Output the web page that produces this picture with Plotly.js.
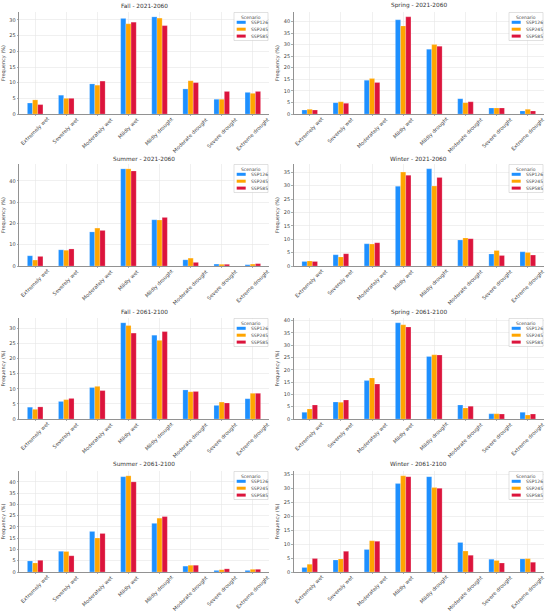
<!DOCTYPE html>
<html>
<head>
<meta charset="utf-8">
<script src="https://cdn.plot.ly/plotly-3.0.1.min.js"></script>
<style>html,body{margin:0;padding:0;background:#fff;}#chart{width:550px;height:612px;}</style>
</head>
<body>
<div id="chart"></div>
<script>
const categories = ['Extremely wet','Severely wet','Moderately wet','Mildly wet','Mildly drought','Moderate drought','Severe drought','Extreme drought'];
const scenarios = ['SSP126','SSP245','SSP585'];
const panelTitles = ['Fall - 2021-2060','Spring - 2021-2060','Summer - 2021-2060','Winter - 2021-2060','Fall - 2061-2100','Spring - 2061-2100','Summer - 2061-2100','Winter - 2061-2100'];
const yTickStep = [5,5,10,5,5,5,5,5];

// Fall 2021-2060
const fallA_126 = [3.5,6.0,9.6,30.5,31.0,8.0,4.7,6.9];
const fallA_245 = [4.5,5.0,9.2,28.8,30.6,10.6,4.7,6.6];
const fallA_585 = [3.0,5.0,10.5,29.3,28.2,10.0,7.2,7.2];
// Spring 2021-2060
const springA_126 = [1.7,4.9,14.6,40.7,28.0,6.6,2.6,1.3];
const springA_245 = [2.0,5.3,15.3,38.1,30.0,4.9,2.6,2.0];
const springA_585 = [1.7,4.6,13.6,42.0,29.3,5.3,2.6,1.3];
// Summer 2021-2060
const summerA_126 = [4.8,7.6,16.0,45.6,21.7,2.9,0.9,0.6];
const summerA_245 = [2.8,7.4,17.8,45.6,21.6,3.7,0.8,0.9];
const summerA_585 = [4.5,8.0,16.7,44.6,22.8,1.7,0.8,1.1];
// Winter 2021-2060
const winterA_126 = [1.7,4.2,8.3,29.8,36.3,9.7,4.5,5.3];
const winterA_245 = [1.9,3.4,8.2,35.1,29.9,10.5,5.8,5.0];
const winterA_585 = [1.7,4.6,8.7,33.9,33.1,10.2,3.9,4.1];
// Fall 2061-2100
const fallB_126 = [3.9,5.8,10.4,31.8,27.7,9.6,4.5,6.7];
const fallB_245 = [3.2,6.4,10.8,30.9,26.0,9.0,5.6,8.5];
const fallB_585 = [4.0,6.8,9.4,28.4,28.9,9.1,5.3,8.5];
// Spring 2061-2100
const springB_126 = [2.7,6.9,15.6,39.1,25.4,5.7,2.1,2.7];
const springB_245 = [4.1,6.8,16.7,38.3,26.1,4.5,2.1,1.6];
const springB_585 = [5.7,7.7,14.2,37.4,26.0,5.2,2.0,2.0];
// Summer 2061-2100
const summerB_126 = [4.9,9.2,18.0,42.3,21.6,2.6,0.7,0.7];
const summerB_245 = [4.0,9.1,15.1,42.7,23.9,3.0,1.0,1.2];
const summerB_585 = [5.2,7.2,17.1,40.0,24.6,3.0,1.4,1.2];
// Winter 2061-2100
const winterB_126 = [1.6,4.3,8.1,31.7,34.2,10.6,4.6,4.7];
const winterB_245 = [2.8,4.7,11.2,34.5,30.3,7.5,4.1,4.8];
const winterB_585 = [4.8,7.4,11.0,34.2,30.0,6.0,3.2,3.5];

const panelData = [
  [fallA_126, fallA_245, fallA_585],
  [springA_126, springA_245, springA_585],
  [summerA_126, summerA_245, summerA_585],
  [winterA_126, winterA_245, winterA_585],
  [fallB_126, fallB_245, fallB_585],
  [springB_126, springB_245, springB_585],
  [summerB_126, summerB_245, summerB_585],
  [winterB_126, winterB_245, winterB_585]
];

const colors = ['#1E90FF','#FFA500','#DC143C'];
const W = 550, H = 612;
const colX = [[19, 269], [293.5, 544]];
const rowY = [[12, 114], [164, 266], [318, 419], [471, 572]];
const titleY = [6, 159, 312, 464];

const FONT = 'DejaVu Sans, sans-serif';
const px = v => v / W;
const py = v => 1 - v / H;
const traces = [];
const layout = {
  width: W, height: H,
  margin: {l: 0, r: 0, t: 0, b: 0},
  paper_bgcolor: '#fff', plot_bgcolor: '#fff',
  barmode: 'group', bargap: 0.5, bargroupgap: 0,
  showlegend: false,
  font: {family: FONT, size: 5, color: '#444'},
  annotations: [],
  shapes: []
};

panelData.forEach((series, i) => {
  const row = Math.floor(i / 2), col = i % 2;
  const xa = 'x' + (i + 1), ya = 'y' + (i + 1);
  let maxV = 0;
  series.forEach((vals, s) => {
    vals.forEach(v => { if (v > maxV) maxV = v; });
    traces.push({
      type: 'bar', x: categories, y: vals, name: scenarios[s],
      xaxis: xa, yaxis: ya,
      marker: {color: colors[s], line: {color: 'rgba(255,255,255,0.35)', width: 0.6}},
      hoverinfo: 'skip'
    });
  });
  const L = colX[col][0], R = colX[col][1], T = rowY[row][0], B = rowY[row][1];
  const axKey = i === 0 ? '' : String(i + 1);
  layout['xaxis' + axKey] = {
    domain: [px(L), px(R)], anchor: ya, type: 'category',
    categoryorder: 'array', categoryarray: categories,
    range: [-0.52, 7.52],
    showgrid: true, gridcolor: '#e6e6e6', gridwidth: 0.6,
    showline: true, linecolor: '#777', linewidth: 0.8,
    ticks: 'outside', ticklen: 1.5, tickcolor: '#777', tickwidth: 0.6,
    showticklabels: false,
    zeroline: false, fixedrange: true
  };
  layout['yaxis' + axKey] = {
    domain: [py(B), py(T)], anchor: xa,
    range: [0, maxV * 1.05], dtick: yTickStep[i], tick0: 0,
    showgrid: true, gridcolor: '#e6e6e6', gridwidth: 0.6,
    showline: true, linecolor: '#777', linewidth: 0.8,
    ticks: 'outside', ticklen: 1.5, tickcolor: '#777', tickwidth: 0.6,
    tickfont: {family: FONT, size: 5, color: '#444'},
    title: {text: 'Frequency (%)', font: {family: FONT, size: 5, color: '#444'}, standoff: 3},
    zeroline: false, fixedrange: true
  };
  // rotated category labels, centred on each tick (matplotlib rot=45 style)
  categories.forEach(c => {
    layout.annotations.push({
      text: c, xref: xa, yref: 'paper', x: c, y: py(B),
      xanchor: 'center', yanchor: 'top', yshift: -1, textangle: -45,
      showarrow: false, borderpad: 0,
      font: {family: FONT, size: 5.2, color: '#444'}
    });
  });
  layout.annotations.push({
    text: panelTitles[i], xref: 'paper', yref: 'paper',
    x: px((L + R) / 2), y: py(titleY[row]),
    xanchor: 'center', yanchor: 'middle', showarrow: false,
    font: {family: FONT, size: 5.8, color: '#333'}
  });
  // legend box (drawn in paper space, top-right of each panel)
  layout.shapes.push({
    type: 'rect', xref: 'paper', yref: 'paper',
    x0: px(R - 35), x1: px(R - 1), y0: py(T + 28.5), y1: py(T + 0.5),
    line: {color: '#cccccc', width: 0.6}, fillcolor: 'rgba(255,255,255,0.85)', layer: 'above'
  });
  layout.annotations.push({
    text: 'Scenario', xref: 'paper', yref: 'paper',
    x: px(R - 18), y: py(T + 5.3), xanchor: 'center', yanchor: 'middle', showarrow: false,
    font: {family: FONT, size: 4.5, color: '#444'}
  });
  scenarios.forEach((name, s) => {
    const cy = T + 10.3 + s * 6.9;
    layout.shapes.push({
      type: 'rect', xref: 'paper', yref: 'paper',
      x0: px(R - 32.3), x1: px(R - 23.3), y0: py(cy + 1.5), y1: py(cy - 1.5),
      line: {width: 0}, fillcolor: colors[s], layer: 'above'
    });
    layout.annotations.push({
      text: name, xref: 'paper', yref: 'paper',
      x: px(R - 20.5), y: py(cy), xanchor: 'left', yanchor: 'middle', showarrow: false,
      font: {family: FONT, size: 4.5, color: '#444'}
    });
  });
});

Plotly.newPlot('chart', traces, layout, {staticPlot: true, displayModeBar: false});
</script>
</body>
</html>
